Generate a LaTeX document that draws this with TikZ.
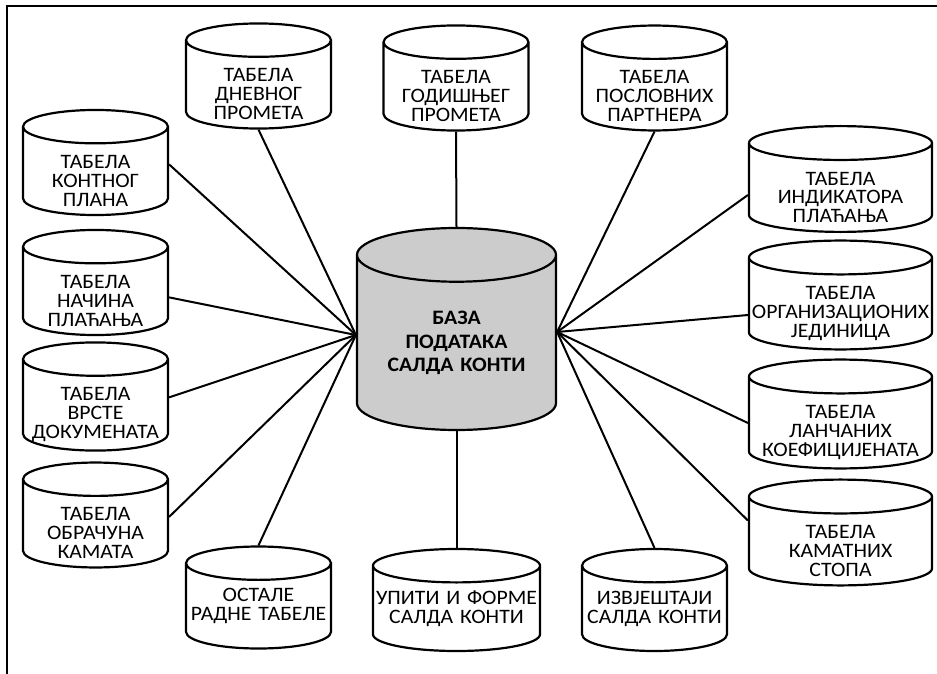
\documentclass[tikz,border=0pt]{standalone}
\usepackage{fontspec}
\setmainfont{Carlito}[FakeStretch=1.06]
\usetikzlibrary{shapes.geometric}
\newcommand{\gore}[1][32pt]{\rule{0pt}{#1}}

\begin{document}
\begin{tikzpicture}[x=1pt,y=-1pt,
		tabela/.style={cylinder,shape border rotate=90,aspect=0.23,draw=black,line width=2.2pt,fill=white,
			inner xsep=0pt,inner ysep=-8pt,text width=145pt,minimum width=145pt,minimum height=102pt,
			align=center,anchor=shape center,font=\fontsize{20.5}{18.9}\selectfont},
		siroka/.style={tabela,text width=183pt,minimum width=183pt,aspect=0.185},
		baza/.style={tabela,fill=black!20,text width=199pt,minimum width=199pt,minimum height=202pt,aspect=0.27,
			font=\fontsize{20.5}{23.5}\selectfont\bfseries},
		veza/.style={line width=2pt}]
		\useasboundingbox (0,0) rectangle (937,674);
		\draw[line width=1.5pt] (7,674) -- (7,6) -- (937,6);
		
		\node[baza]   (baza)       at (456.5,329)   {БАЗА\\ПОДАТАКА\\САЛДА КОНТИ};
		
		\node[tabela] (dnevni)     at (258.5,76)    {\gore ТАБЕЛА\\ДНЕВНОГ\\ПРОМЕТА};
		\node[tabela] (godisnji)   at (456,78)      {\gore ТАБЕЛА\\ГОДИШЊЕГ\\ПРОМЕТА};
		\node[tabela] (partneri)   at (654.5,78)    {\gore ТАБЕЛА\\ПОСЛОВНИХ\\ПАРТНЕРА};
		\node[tabela] (kontni)     at (95.5,162.5)  {\gore ТАБЕЛА\\КОНТНОГ\\ПЛАНА};
		\node[tabela] (nacini)     at (95.5,282.5)  {\gore ТАБЕЛА\\НАЧИНА\\ПЛАЋАЊА};
		\node[tabela] (vrste)      at (95.5,396.5)  {\gore ТАБЕЛА\\ВРСТЕ\\ДОКУМЕНАТА};
		\node[tabela] (obracun)    at (95.5,515)    {\gore ТАБЕЛА\\ОБРАЧУНА\\КАМАТА};
		\node[tabela] (ostale)     at (258.5,597.5) {ОСТАЛЕ\\РАДНЕ ТАБЕЛЕ};
		\node[tabela,text width=167pt,minimum width=167pt,aspect=0.2] (upiti) at (456.5,600) {УПИТИ И ФОРМЕ\\САЛДА КОНТИ};
		\node[tabela] (izvjestaji) at (654.5,600)   {ИЗВЈЕШТАЈИ\\САЛДА КОНТИ};
		\node[siroka] (indikatori) at (840.5,179)   {\gore ТАБЕЛА\\ИНДИКАТОРА\\ПЛАЋАЊА};
		\node[siroka] (jedinice)   at (840.5,295)   {\gore ТАБЕЛА\\ОРГАНИЗАЦИОНИХ\\ЈЕДИНИЦА};
		\node[siroka] (lancani)    at (840.5,414)   {\gore ТАБЕЛА\\ЛАНЧАНИХ\\КОЕФИЦИЈЕНАТА};
		\node[siroka] (kamate)     at (840.5,532.5) {\gore ТАБЕЛА\\КАМАТНИХ\\СТОПА};
		
		\coordinate (baza-l) at ([yshift=8pt]baza.west);
		\coordinate (baza-d) at ([yshift=11pt]baza.east);
		
		\path[veza]
		(dnevni.south) edge (baza-l)
		([yshift=7pt]kontni.east) edge (baza-l)
		([yshift=-6pt]nacini.east) edge (baza-l)
		([yshift=8pt]vrste.east) edge (baza-l)
		([yshift=7pt]obracun.east) edge (baza-l)
		(ostale.north) edge (baza-l)
		(godisnji.south) edge (baza.north)
		(baza.south) edge (upiti.north)
		(partneri.south) edge (baza-d)
		([yshift=-7pt]indikatori.west) edge (baza-d)
		([yshift=-11pt]jedinice.west) edge (baza-d)
		(lancani.west) edge (baza-d)
		([yshift=21pt]kamate.west) edge (baza-d)
		(izvjestaji.north) edge (baza-d);
\end{tikzpicture}
\end{document}
